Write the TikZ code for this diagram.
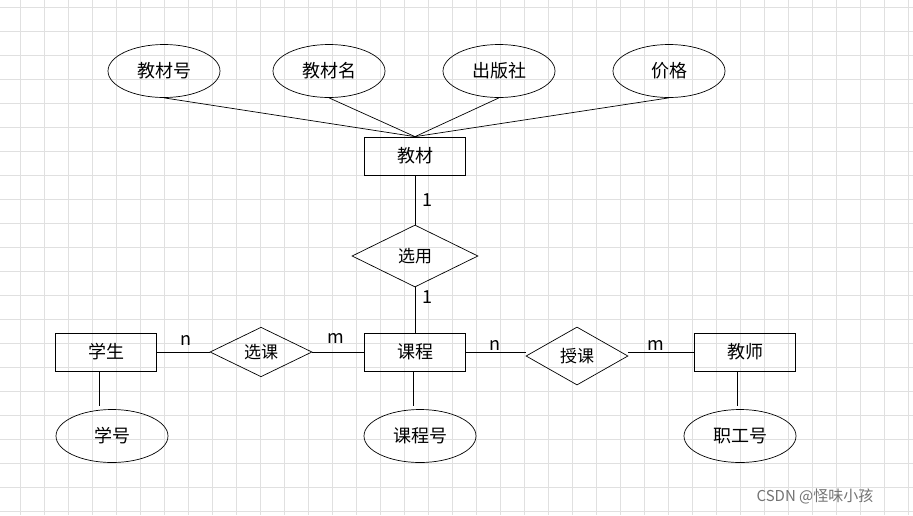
\documentclass[tikz,border=0pt]{standalone}
\usepackage{fontspec}
\setmainfont{Noto Sans CJK SC}
\usetikzlibrary{shapes.geometric}
\begin{document}
\begin{tikzpicture}[x=1pt,y=-1pt,
 ent/.style={draw,rectangle,minimum width=101pt,minimum height=38pt,inner sep=0,font=\fontsize{18}{18}\selectfont},
 att/.style={draw,ellipse,minimum width=112pt,minimum height=53pt,inner sep=0,font=\fontsize{18}{18}\selectfont},
 rel/.style={draw,diamond,inner sep=0,font=\fontsize{17}{17}\selectfont},
 lab/.style={font=\fontsize{18}{18}\selectfont},
 line width=0.7pt]
\fill[white] (0,0) rectangle (913,515);
\useasboundingbox (0,0) rectangle (913,515);
\foreach \x in {20,44,...,913} \draw[black!12,line width=0.7pt] (\x,0) -- (\x,515);
\foreach \y in {7.5,31.5,...,515} \draw[black!12,line width=0.7pt] (0,\y) -- (913,\y);
\node[att] (a1) at (164,71) {教材号};
\node[att] (a2) at (329,71) {教材名};
\node[att] (a3) at (499,71) {出版社};
\node[att] (a4) at (669,71) {价格};
\node[ent] (jc) at (415,156) {教材};
\node[rel,minimum width=126pt,minimum height=62pt] (xy) at (415,256) {选用};
\node[ent] (kc) at (415,352) {课程};
\node[ent] (xs) at (106,352) {学生};
\node[ent] (js) at (745,352) {教师};
\node[rel,minimum width=102pt,minimum height=48pt] (xk) at (261,352) {选课};
\node[rel,minimum width=102pt,minimum height=58pt] (sk) at (577,356) {授课};
\node[att] (b1) at (112,436) {学号};
\node[att] (b2) at (420,436) {课程号};
\node[att] (b3) at (740,436) {职工号};
\foreach \a in {a1,a2,a3,a4} \draw (\a.south) -- (jc.north);
\draw (jc) -- (xy); \draw (xy) -- (kc);
\draw (xs) -- (xk); \draw (xk) -- (kc);
\draw (kc) -- (kc.east -| sk.west) ; \draw (sk.east |- js.west) -- (js);
\draw ([xshift=-7pt]xs.south) -- ++(0,35);
\draw ([xshift=-2pt]kc.south) -- ++(0,35);
\draw ([xshift=-8pt]js.south) -- ++(0,35);
\node[lab] (l1) at (427,200) {1};
\node[lab] (l2) at (427,297) {1};
\node[lab] (l3) at (186,340) {n};
\node[lab] (l4) at (336,338) {m};
\node[lab] (l5) at (495,345) {n};
\node[lab] (l6) at (656,345) {m};
\node[font=\fontsize{15}{15}\selectfont,text=black!55] (wm) at (815,496) {CSDN @怪味小孩};
\end{tikzpicture}
\end{document}
